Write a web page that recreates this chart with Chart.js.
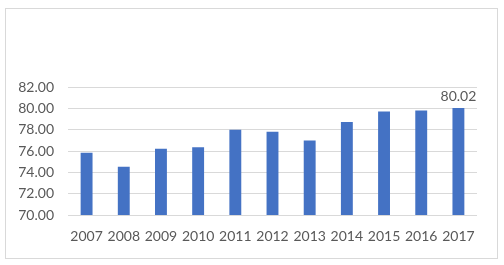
<!DOCTYPE html>
<html>
<head>
<meta charset="utf-8">
<script src="https://cdn.jsdelivr.net/npm/chart.js@4/dist/chart.umd.min.js"></script>
<style>
  html, body { margin: 0; padding: 0; background: #fff; }
  #wrap { width: 504px; height: 265px; position: relative; }
</style>
</head>
<body>
<div id="wrap"><canvas id="myChart"></canvas></div>
<script>
// data
const years = ["2007", "2008", "2009", "2010", "2011", "2012", "2013", "2014", "2015", "2016", "2017"];
const values = [75.84, 74.53, 76.21, 76.34, 78.0, 77.8, 76.99, 78.72, 79.71, 79.8, 80.02];
const yTicks = [70, 72, 74, 76, 78, 80, 82];
const labelIndex = 10; // only the last bar has a label

const textColor = "#595959";
const fontFam = "Lato, 'Liberation Sans', sans-serif";

// outer frame like the spreadsheet chart box
const framePlugin = {
  id: "frame",
  beforeDraw(chart) {
    const ctx = chart.ctx;
    ctx.save();
    ctx.fillStyle = "#fff";
    ctx.fillRect(0, 0, chart.width, chart.height);
    ctx.strokeStyle = "#d9d9d9";
    ctx.lineWidth = 1;
    ctx.strokeRect(5.5, 8.5, 492, 250);
    ctx.restore();
  }
};

// value label above the last bar
const valueLabel = {
  id: "valueLabel",
  afterDatasetsDraw(chart) {
    const ctx = chart.ctx;
    const bar = chart.getDatasetMeta(0).data[labelIndex];
    ctx.save();
    ctx.font = "14px " + fontFam;
    ctx.fillStyle = textColor;
    ctx.textAlign = "center";
    ctx.textBaseline = "bottom";
    ctx.fillText(values[labelIndex].toFixed(2), bar.x, bar.y - 5);
    ctx.restore();
  }
};

const ctx = document.getElementById("myChart");
new Chart(ctx, {
  type: "bar",
  data: {
    labels: years,
    datasets: [{
      data: values,
      backgroundColor: "#4472C4",
      barPercentage: 0.32,
      categoryPercentage: 1
    }]
  },
  options: {
    responsive: true,
    maintainAspectRatio: false,
    animation: false,
    layout: { padding: { top: 87, right: 27, bottom: 0, left: 0 } },
    plugins: { legend: { display: false }, tooltip: { enabled: false } },
    scales: {
      x: {
        grid: { display: false, drawTicks: false },
        border: { display: false },
        ticks: { color: textColor, font: { size: 14, family: fontFam }, padding: 13, maxRotation: 0, autoSkip: false },
        afterFit(scale) { scale.height = 50; }
      },
      y: {
        min: 70,
        max: 82,
        afterBuildTicks(scale) { scale.ticks = yTicks.map(v => ({ value: v })); },
        grid: { color: "#d9d9d9", drawTicks: false },
        border: { display: false },
        ticks: {
          color: textColor,
          font: { size: 14, family: fontFam },
          padding: 14,
          callback: v => Number(v).toFixed(2)
        },
        afterFit(scale) { scale.width = 68; }
      }
    }
  },
  plugins: [framePlugin, valueLabel]
});
</script>
</body>
</html>
